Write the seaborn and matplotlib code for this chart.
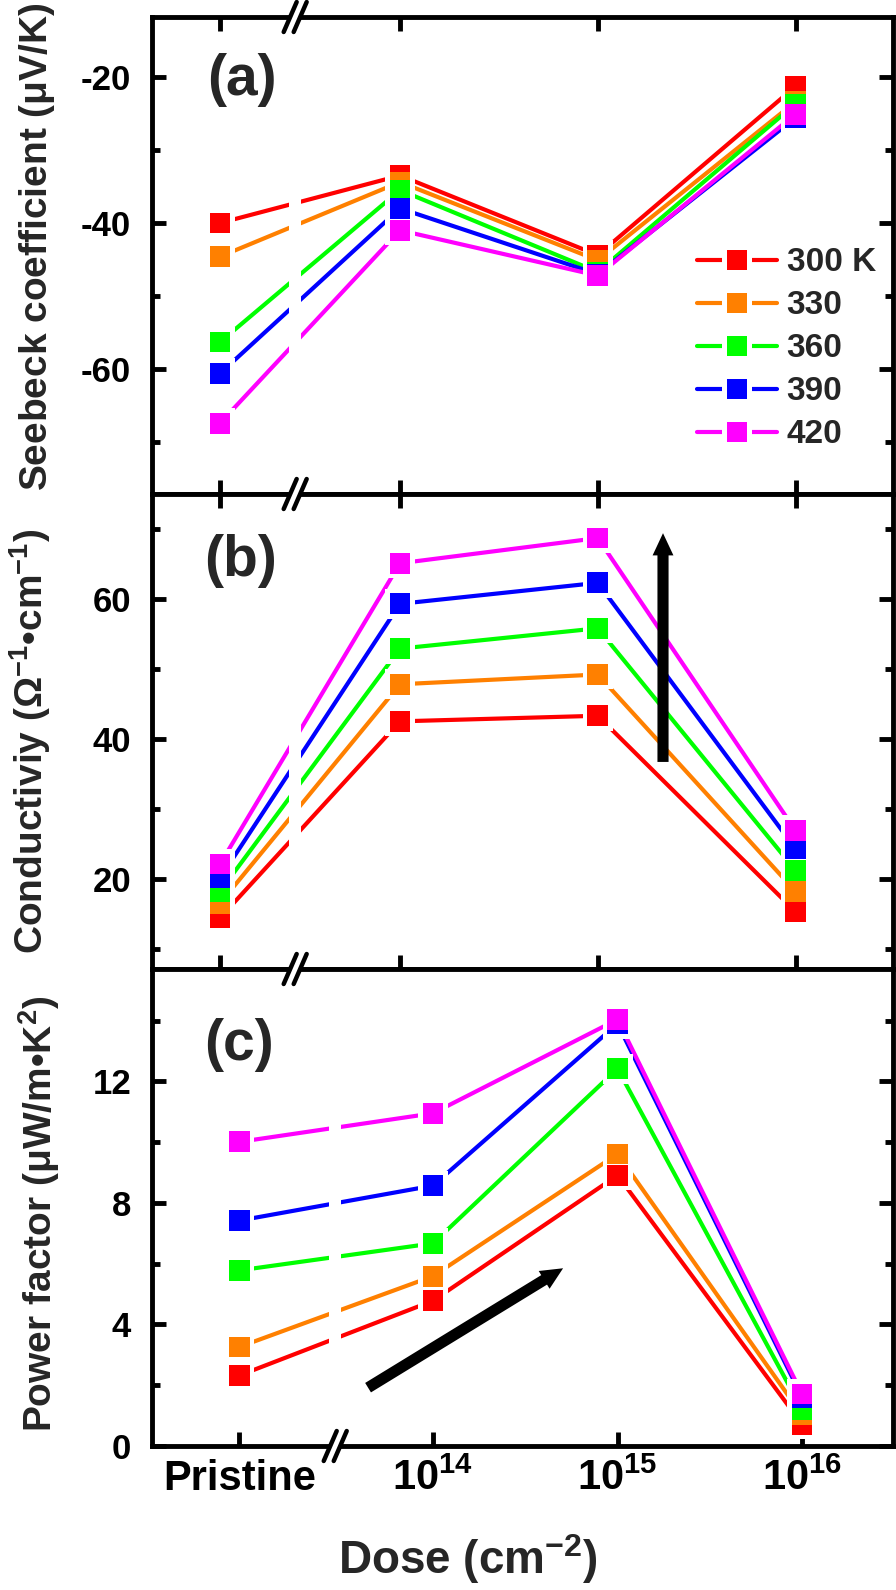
import pandas as pd
import matplotlib
matplotlib.use('Agg')
import matplotlib.pyplot as plt
import seaborn as sns
from matplotlib.lines import Line2D
from matplotlib.patches import Polygon, FancyArrowPatch, ArrowStyle
from matplotlib.transforms import IdentityTransform
from matplotlib.legend_handler import HandlerTuple

# ==========================================
# DATA
# ==========================================
dose_labels = ['Pristine', r'$\mathbf{10^{14}}$', r'$\mathbf{10^{15}}$', r'$\mathbf{10^{16}}$']
dose_log = [14, 15, 16]
temps = ['300 K', '330', '360', '390', '420']
colors = ['#FF0000', '#FF8000', '#00FF00', '#0000FF', '#FF00FF']

# (a) Seebeck coefficient, uV/K  [Pristine, 1e14, 1e15, 1e16]
seebeck_300 = [-40.0, -33.5, -44.4, -21.3]
seebeck_330 = [-44.6, -34.4, -45.1, -23.4]
seebeck_360 = [-56.3, -35.5, -46.7, -23.7]
seebeck_390 = [-60.6, -38.0, -47.0, -25.6]
seebeck_420 = [-67.4, -41.0, -47.2, -25.1]

# (b) Conductivity, S/cm
cond_300 = [14.4, 42.5, 43.3, 15.3]
cond_330 = [16.5, 47.8, 49.2, 18.2]
cond_360 = [18.2, 52.9, 55.8, 21.2]
cond_390 = [20.1, 59.3, 62.3, 24.3]
cond_420 = [22.1, 65.1, 68.7, 26.9]

# (c) Power factor, uW/m K^2
pf_300 = [2.32, 4.78, 8.91, 0.72]
pf_330 = [3.26, 5.59, 9.61, 1.02]
pf_360 = [5.78, 6.67, 12.42, 1.20]
pf_390 = [7.42, 8.57, 13.90, 1.61]
pf_420 = [10.01, 10.95, 14.04, 1.71]

# ==========================================
# STYLE
# ==========================================
sns.set_theme(style='ticks')
plt.rcParams['font.family'] = ['Liberation Sans', 'DejaVu Sans']
plt.rcParams['font.weight'] = 'bold'
plt.rcParams['axes.unicode_minus'] = False
plt.rcParams['mathtext.fontset'] = 'custom'
plt.rcParams['mathtext.rm'] = 'Liberation Sans'
plt.rcParams['mathtext.it'] = 'Liberation Sans'
plt.rcParams['mathtext.bf'] = 'Liberation Sans:bold'
plt.rcParams['mathtext.default'] = 'regular'

W, H = 896, 1590
fig = plt.figure(figsize=(W / 100, H / 100), dpi=100)


def px_axes(left, top, right, bottom):
    return fig.add_axes([left / W, 1 - bottom / H, (right - left) / W, (bottom - top) / H])


ax_a = px_axes(152, 17, 893, 494)
ax_b = px_axes(152, 494, 893, 969)
ax_c = px_axes(152, 969, 893, 1446)

# pristine sits left of the axis break
pristine_ab, pristine_c = 13.09, 12.95
break_x = 13.47
xlim_ab = (12.746, 16.493)
xlim_c = (12.477, 16.493)


def draw_panel(ax, series, x_pos, gap):
    rows = []
    for t, vals in zip(temps, series):
        for x, v in zip(x_pos, vals):
            rows.append({'T': t, 'x': x, 'y': v})
    df = pd.DataFrame(rows)
    sns.lineplot(data=df, x='x', y='y', hue='T', hue_order=temps, palette=colors,
                 estimator=None, sort=False, lw=3, legend=False, ax=ax, zorder=2,
                 solid_capstyle='round')
    # gap in the lines at the axis break
    ax.axvspan(break_x - gap, break_x + gap, color='white', lw=0, zorder=2.1)
    # white halo so lines stop short of the symbols
    sns.scatterplot(data=df, x='x', y='y', color='white', marker='s', s=21 ** 2,
                    linewidth=0, legend=False, ax=ax, zorder=3)
    sns.scatterplot(data=df, x='x', y='y', hue='T', hue_order=temps, palette=colors,
                    marker='s', s=15 ** 2, linewidth=0, legend=False, ax=ax, zorder=4)


def style_axes(ax, xlim, ylim, xticks, ymajor, yminor, top=True):
    ax.set_xlim(xlim)
    ax.set_ylim(ylim)
    ax.set_xticks(xticks)
    ax.set_yticks(ymajor)
    ax.set_yticks(yminor, minor=True)
    ax.tick_params(which='both', direction='in', top=top, right=True,
                   width=3.5, color='black', labelcolor='black')
    ax.tick_params(which='major', length=10)
    ax.tick_params(which='minor', length=6)
    ax.tick_params(axis='y', labelsize=25, pad=15)
    ax.tick_params(axis='x', which='minor', bottom=False, top=False)
    for sp in ax.spines.values():
        sp.set_linewidth(3.5)
        sp.set_color('black')
        sp.set_zorder(10)
    ax.set_xlabel('')


x_ab = [pristine_ab] + dose_log
x_c = [pristine_c] + dose_log

draw_panel(ax_a, [seebeck_300, seebeck_330, seebeck_360, seebeck_390, seebeck_420], x_ab, 0.03)
draw_panel(ax_b, [cond_300, cond_330, cond_360, cond_390, cond_420], x_ab, 0.03)
draw_panel(ax_c, [pf_300, pf_330, pf_360, pf_390, pf_420], x_c, 0.033)

style_axes(ax_a, xlim_ab, (-77.1, -11.8), x_ab, [-20, -40, -60], [-30, -50, -70])
style_axes(ax_b, xlim_ab, (7.1, 75), x_ab, [20, 40, 60], [10, 30, 50, 70])
style_axes(ax_c, xlim_c, (0, 15.7), x_c, [0, 4, 8, 12], [2, 6, 10, 14], top=False)

ax_a.tick_params(axis='x', labelbottom=False)
ax_b.tick_params(axis='x', labelbottom=False)
ax_c.set_xticklabels(dose_labels)
ax_c.tick_params(axis='x', labelsize=30, pad=9)

ax_a.set_ylabel(r'Seebeck coefficient ($\mu$V/K)', fontsize=28, fontweight='bold')
ax_b.set_ylabel(r'Conductiviy ($\Omega^{-1}$•cm$^{-1}$)', fontsize=28, fontweight='bold')
ax_c.set_ylabel(r'Power factor ($\mu$W/m•K$^{2}$)', fontsize=28, fontweight='bold')
ax_a.yaxis.set_label_coords(-0.128, 0.518)
ax_b.yaxis.set_label_coords(-0.133, 0.478)
ax_c.yaxis.set_label_coords(-0.121, 0.486)

ax_c.set_xlabel(r'Dose ($\mathbf{cm^{-2}}$)', fontsize=33, fontweight='bold')
ax_c.xaxis.set_label_coords(0.426, -0.18)

for ax, lab, (tx, ty) in [(ax_a, '(a)', (0.121, 0.868)),
                          (ax_b, '(b)', (0.120, 0.859)),
                          (ax_c, '(c)', (0.117, 0.841))]:
    ax.text(tx, ty, lab, transform=ax.transAxes, fontsize=41, fontweight='bold',
            ha='center', va='center')

# legend: line - symbol - line
handles = []
for c in colors:
    handles.append((Line2D([], [], color=c, lw=3, solid_capstyle='round'),
                    Line2D([], [], marker='s', color='white', ms=21, ls='', mew=0),
                    Line2D([], [], marker='s', color=c, ms=15, ls='', mew=0)))
ax_a.legend(handles, temps, handler_map={tuple: HandlerTuple(ndivide=1, pad=0)},
            loc='center left', bbox_to_anchor=(0.735, 0.304), frameon=False,
            fontsize=24, handlelength=2.4, handletextpad=0.3, labelspacing=0.36,
            borderpad=0, borderaxespad=0)

# arrows
ax_b.add_patch(FancyArrowPatch((15.33, 36.7), (15.33, 69.4),
                               arrowstyle=ArrowStyle.Simple(head_length=16, head_width=15, tail_width=8),
                               mutation_scale=1, color='black', lw=0, shrinkA=0, shrinkB=0, zorder=5))
ax_c.add_patch(FancyArrowPatch((13.648, 1.92), (14.705, 5.85),
                               arrowstyle=ArrowStyle.Simple(head_length=16, head_width=15, tail_width=8),
                               mutation_scale=1, color='black', lw=0, shrinkA=0, shrinkB=0, zorder=5))


# axis break marks "//" on the horizontal spines
def draw_break(ax, yaxes):
    cx, cy = ax.get_xaxis_transform().transform((break_x, yaxes))
    h, d, off = 15, 6.5, 5
    hh = 5
    dd = d * hh / h
    fig.add_artist(Polygon([(cx - off - dd, cy - hh), (cx + off - dd, cy - hh),
                            (cx + off + dd, cy + hh), (cx - off + dd, cy + hh)],
                           closed=True, facecolor='white', edgecolor='none',
                           transform=IdentityTransform(), zorder=19))
    for o in (-off, off):
        fig.add_artist(Line2D([cx + o - d, cx + o + d], [cy - h, cy + h],
                              transform=IdentityTransform(), color='black', lw=3.2,
                              solid_capstyle='round', zorder=20))


draw_break(ax_a, 1)
draw_break(ax_a, 0)
draw_break(ax_b, 0)
draw_break(ax_c, 0)

fig.savefig('out.png', dpi=100)
